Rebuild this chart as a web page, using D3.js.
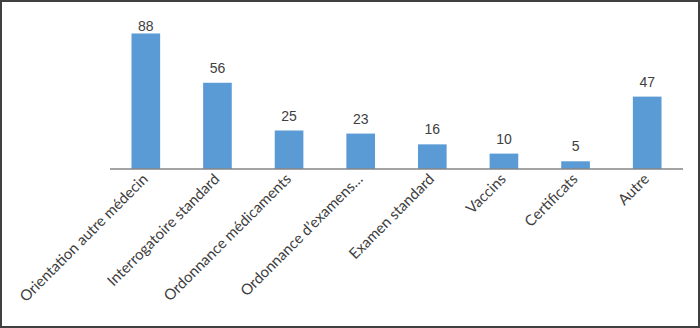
<!DOCTYPE html>
<html><head><meta charset="utf-8">
<script src="https://cdn.jsdelivr.net/npm/d3@7"></script>
<style>body{margin:0;background:#fff}svg{display:block}</style>
</head><body>
<script>
const categories = ["Orientation autre médecin","Interrogatoire standard","Ordonnance médicaments","Ordonnance d’examens…","Examen standard","Vaccins","Certificats","Autre"];
const values = [88,56,25,23,16,10,5,47];

const W=700,H=328;
const svg=d3.select("body").append("svg").attr("width",W).attr("height",H);
svg.append("rect").attr("x",1).attr("y",1).attr("width",W-2).attr("height",H-2)
  .attr("fill","#fff").attr("stroke","#404040").attr("stroke-width",2);

const x=d3.scaleBand().domain(categories).range([110,683]).paddingInner(0.6).paddingOuter(0.3);
const y=d3.scaleLinear().domain([0,100]).range([169,15]);

svg.selectAll("rect.bar").data(values).join("rect").attr("class","bar")
  .attr("x",(d,i)=>x(categories[i])).attr("width",x.bandwidth())
  .attr("y",d=>y(d)).attr("height",d=>y(0)-y(d)).attr("fill","#5B9BD5");

svg.append("line").attr("x1",110).attr("x2",683).attr("y1",y(0)).attr("y2",y(0))
  .attr("stroke","#868686").attr("stroke-width",1.5);

svg.selectAll("text.val").data(values).join("text").attr("class","val")
  .attr("x",(d,i)=>x(categories[i])+x.bandwidth()/2)
  .attr("y",d=>Math.max(y(d)-10,31))
  .attr("text-anchor","middle").attr("font-family","Liberation Sans, Arial, sans-serif")
  .attr("font-size",14).attr("fill","#404040").text(d=>d);

svg.selectAll("text.cat").data(categories).join("text").attr("class","cat")
  .attr("transform",d=>`translate(${x(d)+x.bandwidth()/2+3},180) rotate(-45)`)
  .attr("text-anchor","end").attr("font-family","Lato, sans-serif")
  .attr("font-size",15).attr("fill","#404040").text(d=>d);
</script>
</body></html>
